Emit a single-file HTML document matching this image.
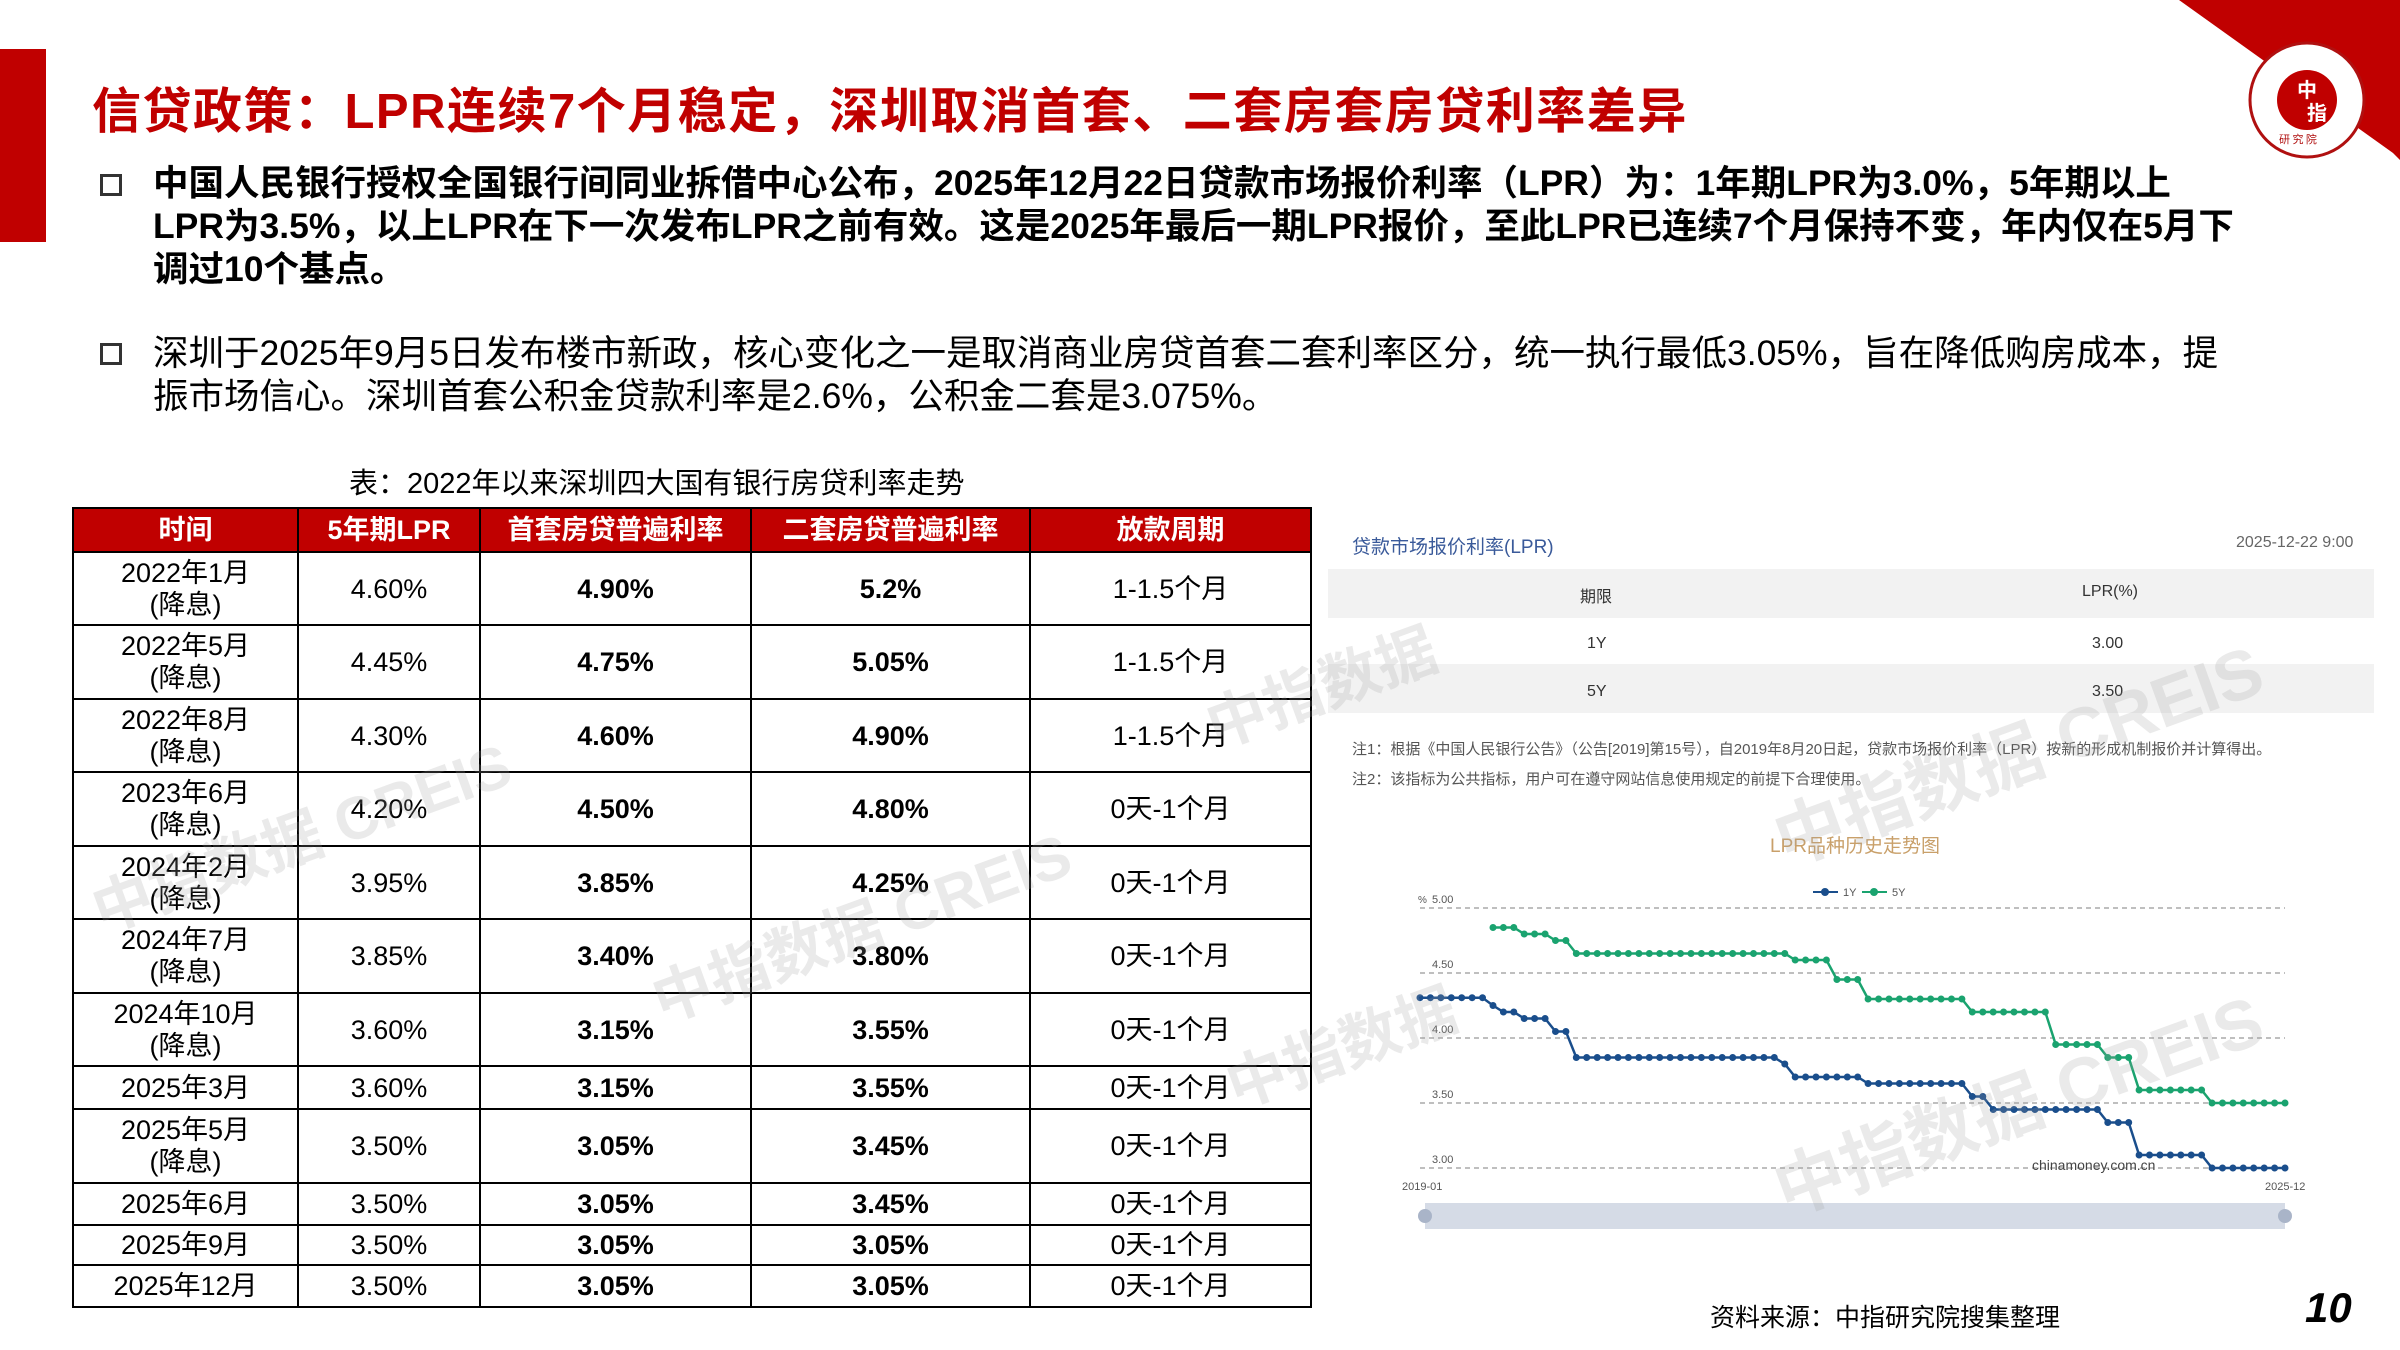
<!DOCTYPE html>
<html><head><meta charset="utf-8">
<style>
*{margin:0;padding:0;box-sizing:border-box}
body{width:2400px;height:1350px;background:#fff;position:relative;overflow:hidden;font-family:"Liberation Sans","Noto Sans CJK SC",sans-serif;color:#000}
.abs{position:absolute;white-space:nowrap}
table{border-collapse:collapse;position:absolute;left:72px;top:507px;width:1238px;table-layout:fixed}
td,th{border:2px solid #000;text-align:center;font-size:27px;line-height:32px;padding:0}
th{background:#c00000;color:#fff;font-weight:bold;height:44px;border-color:#000}
td.b{font-weight:bold}
.wm{position:absolute;color:rgba(160,160,160,0.22);font-weight:bold;transform:rotate(-20deg);white-space:nowrap}
</style></head><body>
<div class="abs" style="left:0;top:49px;width:46px;height:193px;background:#c00000"></div>
<svg class="abs" style="left:0;top:0" width="2400" height="220">
<polygon points="2179,0 2400,0 2400,160 2393,153" fill="#c00000"/>
<circle cx="2307" cy="100" r="57" fill="#fff" stroke="#b01010" stroke-width="3"/>
<circle cx="2307" cy="100" r="30" fill="#c00000"/>
<text x="2297" y="97" font-size="20" fill="#fff" font-family="Noto Sans CJK SC" font-weight="bold">中</text>
<text x="2307" y="120" font-size="20" fill="#fff" font-family="Noto Sans CJK SC" font-weight="bold">指</text>
<text x="2279" y="143" font-size="11" fill="#b01010" font-family="Noto Sans CJK SC">研 究 院</text>
</svg>
<div class="abs" style="left:92px;top:72px;font-size:49px;font-weight:bold;color:#c00000;letter-spacing:1.5px">信贷政策：LPR连续7个月稳定，深圳取消首套、二套房套房贷利率差异</div>
<div class="abs" style="left:100px;top:174px;width:22px;height:22px;border:3px solid #333"></div>
<div class="abs" style="left:153px;top:162px;font-size:35.5px;font-weight:bold;line-height:43px">中国人民银行授权全国银行间同业拆借中心公布，2025年12月22日贷款市场报价利率（LPR）为：1年期LPR为3.0%，5年期以上<br>LPR为3.5%，以上LPR在下一次发布LPR之前有效。这是2025年最后一期LPR报价，至此LPR已连续7个月保持不变，年内仅在5月下<br>调过10个基点。</div>
<div class="abs" style="left:100px;top:343px;width:22px;height:22px;border:3px solid #333"></div>
<div class="abs" style="left:153px;top:332px;font-size:35.5px;line-height:43px">深圳于2025年9月5日发布楼市新政，核心变化之一是取消商业房贷首套二套利率区分，统一执行最低3.05%，旨在降低购房成本，提<br>振市场信心。深圳首套公积金贷款利率是2.6%，公积金二套是3.075%。</div>
<div class="abs" style="left:349px;top:460px;font-size:29px">表：2022年以来深圳四大国有银行房贷利率走势</div>
<table>
<colgroup><col style="width:225px"><col style="width:182px"><col style="width:271px"><col style="width:279px"><col style="width:281px"></colgroup>
<tr><th>时间</th><th>5年期LPR</th><th>首套房贷普遍利率</th><th>二套房贷普遍利率</th><th>放款周期</th></tr>
<tr style="height:73px"><td>2022年1月<br>(降息)</td><td>4.60%</td><td class="b">4.90%</td><td class="b">5.2%</td><td>1-1.5个月</td></tr>
<tr style="height:74px"><td>2022年5月<br>(降息)</td><td>4.45%</td><td class="b">4.75%</td><td class="b">5.05%</td><td>1-1.5个月</td></tr>
<tr style="height:73px"><td>2022年8月<br>(降息)</td><td>4.30%</td><td class="b">4.60%</td><td class="b">4.90%</td><td>1-1.5个月</td></tr>
<tr style="height:74px"><td>2023年6月<br>(降息)</td><td>4.20%</td><td class="b">4.50%</td><td class="b">4.80%</td><td>0天-1个月</td></tr>
<tr style="height:73px"><td>2024年2月<br>(降息)</td><td>3.95%</td><td class="b">3.85%</td><td class="b">4.25%</td><td>0天-1个月</td></tr>
<tr style="height:74px"><td>2024年7月<br>(降息)</td><td>3.85%</td><td class="b">3.40%</td><td class="b">3.80%</td><td>0天-1个月</td></tr>
<tr style="height:73px"><td>2024年10月<br>(降息)</td><td>3.60%</td><td class="b">3.15%</td><td class="b">3.55%</td><td>0天-1个月</td></tr>
<tr style="height:43px"><td>2025年3月</td><td>3.60%</td><td class="b">3.15%</td><td class="b">3.55%</td><td>0天-1个月</td></tr>
<tr style="height:74px"><td>2025年5月<br>(降息)</td><td>3.50%</td><td class="b">3.05%</td><td class="b">3.45%</td><td>0天-1个月</td></tr>
<tr style="height:42px"><td>2025年6月</td><td>3.50%</td><td class="b">3.05%</td><td class="b">3.45%</td><td>0天-1个月</td></tr>
<tr style="height:40px"><td>2025年9月</td><td>3.50%</td><td class="b">3.05%</td><td class="b">3.05%</td><td>0天-1个月</td></tr>
<tr style="height:42px"><td>2025年12月</td><td>3.50%</td><td class="b">3.05%</td><td class="b">3.05%</td><td>0天-1个月</td></tr>
</table>
<div class="abs" style="left:1352px;top:532px;font-size:19px;color:#3a5a9a">贷款市场报价利率(LPR)</div>
<div class="abs" style="left:2236px;top:534px;font-size:16px;color:#666">2025-12-22 9:00</div>
<div class="abs" style="left:1328px;top:569px;width:1046px;height:49px;background:#f2f2f2"></div>
<div class="abs" style="left:1328px;top:664px;width:1046px;height:49px;background:#f2f2f2"></div>
<div class="abs" style="left:1580px;top:583px;font-size:16px;color:#333">期限</div>
<div class="abs" style="left:2082px;top:583px;font-size:16px;color:#333">LPR(%)</div>
<div class="abs" style="left:1587px;top:635px;font-size:16px;color:#333">1Y</div>
<div class="abs" style="left:2092px;top:635px;font-size:16px;color:#333">3.00</div>
<div class="abs" style="left:1587px;top:683px;font-size:16px;color:#333">5Y</div>
<div class="abs" style="left:2092px;top:683px;font-size:16px;color:#333">3.50</div>
<div class="abs" style="left:1352px;top:738px;font-size:15px;color:#555">注1：根据《中国人民银行公告》（公告[2019]第15号），自2019年8月20日起，贷款市场报价利率（LPR）按新的形成机制报价并计算得出。</div>
<div class="abs" style="left:1352px;top:768px;font-size:15px;color:#555">注2：该指标为公共指标，用户可在遵守网站信息使用规定的前提下合理使用。</div>
<div class="abs" style="left:1770px;top:831px;font-size:19px;color:#c9a06a">LPR品种历史走势图</div>
<svg class="abs" id="ch" style="left:0;top:0" width="2400" height="1350"></svg>
<div class="abs" style="left:1710px;top:1298px;font-size:25px">资料来源：中指研究院搜集整理</div>
<div class="abs" style="left:2305px;top:1284px;font-size:42px;font-weight:bold;font-style:italic">10</div>
<div class="wm" style="left:1200px;top:640px;font-size:60px">中指数据</div>
<div class="wm" style="left:1760px;top:700px;font-size:70px">中指数据 CREIS</div>
<div class="wm" style="left:1760px;top:1050px;font-size:70px">中指数据 CREIS</div>
<div class="wm" style="left:640px;top:880px;font-size:60px">中指数据 CREIS</div>
<div class="wm" style="left:80px;top:790px;font-size:60px">中指数据 CREIS</div>
<div class="wm" style="left:1220px;top:1000px;font-size:60px">中指数据</div>
<script>
var s='',x0=1420,x1=2285,Y=function(v){return 1168-(v-3)*130};
[5,4.5,4,3.5,3].forEach(function(v){var y=Y(v);s+='<line x1="1420" x2="2285" y1="'+y+'" y2="'+y+'" stroke="#aaa" stroke-dasharray="5,4" stroke-width="1.5"/><text x="1432" y="'+(y-5)+'" font-size="11" fill="#555">'+v.toFixed(2)+'</text>';});
s+='<text x="1418" y="903" font-size="10" fill="#555">%</text>';
s+='<text x="1402" y="1190" font-size="11" fill="#555">2019-01</text><text x="2265" y="1190" font-size="11" fill="#555">2025-12</text>';
s+='<text x="2032" y="1170" font-size="14" fill="#444">chinamoney.com.cn</text>';
s+='<rect x="1425" y="1203" width="860" height="26" fill="#d5dbe6"/><circle cx="1425" cy="1216" r="7" fill="#a9b4c8"/><circle cx="2285" cy="1216" r="7" fill="#a9b4c8"/>';
s+='<line x1="1813" x2="1838" y1="892" y2="892" stroke="#1a4e8c" stroke-width="2"/><circle cx="1825" cy="892" r="4" fill="#1a4e8c"/><text x="1843" y="896" font-size="11" fill="#555">1Y</text>';
s+='<line x1="1862" x2="1887" y1="892" y2="892" stroke="#1aa36f" stroke-width="2"/><circle cx="1874" cy="892" r="4" fill="#1aa36f"/><text x="1892" y="896" font-size="11" fill="#555">5Y</text>';
function ser(ch){var a=[],v;for(var i=0;i<84;i++){if(ch[i]!==undefined)v=ch[i];a.push(v);}return a;}
var one=ser({0:4.31,7:4.25,8:4.20,10:4.15,13:4.05,15:3.85,35:3.80,36:3.70,43:3.65,53:3.55,55:3.45,66:3.35,69:3.10,76:3.00});
var five=ser({0:null,7:4.85,10:4.80,13:4.75,15:4.65,36:4.60,40:4.45,43:4.30,53:4.20,61:3.95,66:3.85,69:3.60,76:3.50});
function draw(a,c){var p='',d='';for(var i=0;i<84;i++){if(a[i]==null)continue;var x=x0+i*(x1-x0)/83,y=Y(a[i]);p+=(p?'L':'M')+x.toFixed(1)+','+y.toFixed(1);d+='<circle cx="'+x.toFixed(1)+'" cy="'+y.toFixed(1)+'" r="3.5" fill="'+c+'"/>';}s+='<path d="'+p+'" fill="none" stroke="'+c+'" stroke-width="2.5"/>'+d;}
draw(five,'#1aa36f');draw(one,'#1a4e8c');
document.getElementById('ch').innerHTML=s;
</script>
</body></html>
